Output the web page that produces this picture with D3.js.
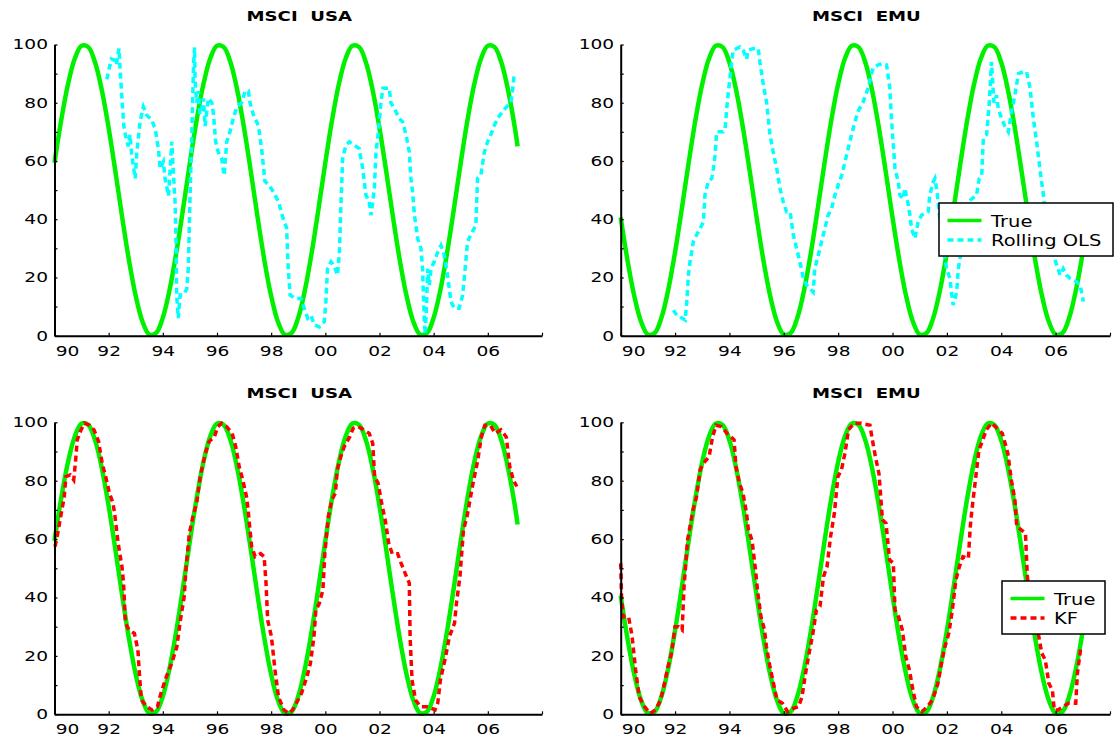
<!DOCTYPE html>
<html><head><meta charset="utf-8">
<script src="https://cdn.jsdelivr.net/npm/d3@7"></script>
<style>
body{margin:0;background:#fff}
text{font-family:"DejaVu Sans",Verdana,sans-serif;fill:#000}
</style>
</head><body>
<svg id="chart" width="1119" height="739"></svg>
<script>
// ---------- DATA ----------
const xTickValues = [1990,1992,1994,1996,1998,2000,2002,2004,2006,2008];
const xTickLabels = ["90","92","94","96","98","00","02","04","06",""];
const yTickValues = [0,10,20,30,40,50,60,70,80,90,100];
const yTickLabels = ["0","","20","","40","","60","","80","","100"];
const panelTitles = ["MSCI USA","MSCI EMU","MSCI USA","MSCI EMU"];
const legendLabelsTop = ["True","Rolling OLS"];
const legendLabelsBottom = ["True","KF"];

// quarterly dates for the true beta (1990.00 ... 2007.00) plus last obs
const trueYears = [1990,1990.25,1990.5,1990.75,1991,1991.25,1991.5,1991.75,1992,1992.25,1992.5,1992.75,
1993,1993.25,1993.5,1993.75,1994,1994.25,1994.5,1994.75,1995,1995.25,1995.5,1995.75,1996,1996.25,1996.5,1996.75,
1997,1997.25,1997.5,1997.75,1998,1998.25,1998.5,1998.75,1999,1999.25,1999.5,1999.75,2000,2000.25,2000.5,2000.75,
2001,2001.25,2001.5,2001.75,2002,2002.25,2002.5,2002.75,2003,2003.25,2003.5,2003.75,2004,2004.25,2004.5,2004.75,
2005,2005.25,2005.5,2005.75,2006,2006.25,2006.5,2006.75,2007,2007.1];
const trueUSA = [59.4,74.1,86.4,95.2,99.6,99.1,93.8,84.2,71.3,56.3,40.6,25.9,13.6,4.8,0.4,0.9,6.2,15.8,28.7,43.7,
59.4,74.1,86.4,95.2,99.6,99.1,93.8,84.2,71.3,56.3,40.6,25.9,13.6,4.8,0.4,0.9,6.2,15.8,28.7,43.7,
59.4,74.1,86.4,95.2,99.6,99.1,93.8,84.2,71.3,56.3,40.6,25.9,13.6,4.8,0.4,0.9,6.2,15.8,28.7,43.7,
59.4,74.1,86.4,95.2,99.6,99.1,93.8,84.2,71.3,65];
const trueEMU = [40.6,25.9,13.6,4.8,0.4,0.9,6.2,15.8,28.7,43.7,59.4,74.1,86.4,95.2,99.6,99.1,93.8,84.2,71.3,56.3,
40.6,25.9,13.6,4.8,0.4,0.9,6.2,15.8,28.7,43.7,59.4,74.1,86.4,95.2,99.6,99.1,93.8,84.2,71.3,56.3,
40.6,25.9,13.6,4.8,0.4,0.9,6.2,15.8,28.7,43.7,59.4,74.1,86.4,95.2,99.6,99.1,93.8,84.2,71.3,56.3,
40.6,25.9,13.6,4.8,0.4,0.9,6.2,15.8,28.7,35];

// [year, beta %]
const rollingOlsUSA = [[1991.93,88],[1992.10,95],[1992.22,94.6],[1992.28,93],[1992.38,98.6],[1992.42,91.8],[1992.50,80],
[1992.56,72],[1992.62,69],[1992.72,65],[1992.79,69],[1992.85,62],[1992.98,54],[1993.04,63],[1993.16,73.5],[1993.28,78.6],
[1993.41,75.7],[1993.59,74],[1993.72,71],[1993.84,64],[1993.90,57.4],[1994.02,59.7],[1994.08,54],[1994.21,48],[1994.27,57],
[1994.33,66.6],[1994.39,56],[1994.45,46],[1994.49,32],[1994.51,14],[1994.57,6],[1994.64,14],[1994.76,14],[1994.88,16],
[1994.94,23],[1995.00,46],[1995.07,69],[1995.13,92],[1995.17,99],[1995.19,88],[1995.25,80],[1995.31,84],[1995.37,76],
[1995.44,78],[1995.50,81.5],[1995.56,72],[1995.68,81.5],[1995.81,80],[1995.87,76],[1995.95,66.6],[1996.05,63],[1996.17,61],
[1996.26,55],[1996.36,66.6],[1996.48,70],[1996.60,74.6],[1996.73,78.6],[1996.91,80],[1997.04,84],[1997.16,84],[1997.22,80],
[1997.34,76],[1997.53,72],[1997.65,64],[1997.77,53],[1997.90,52],[1998.08,49.4],[1998.27,46],[1998.45,40],[1998.57,37],
[1998.63,23],[1998.70,14],[1998.88,12.8],[1999.10,12.8],[1999.22,9.4],[1999.35,6],[1999.47,7],[1999.59,3.7],[1999.78,3],
[1999.96,4.8],[2000.02,11.7],[2000.08,23],[2000.21,25.4],[2000.33,24],[2000.45,20.8],[2000.52,28.8],[2000.58,46],[2000.64,61],
[2000.76,65.4],[2000.89,66.6],[2001.07,65.4],[2001.25,64.3],[2001.38,57.4],[2001.50,48.3],[2001.62,46],[2001.69,41.4],
[2001.81,50.6],[2001.87,63],[2001.96,70],[2002.03,78],[2002.12,85],[2002.36,85],[2002.42,80],[2002.55,78],[2002.73,74.6],
[2002.85,73.5],[2002.98,69],[2003.10,63],[2003.16,54],[2003.22,49.4],[2003.29,41.4],[2003.41,33.4],[2003.53,30],[2003.59,23],
[2003.65,6],[2003.69,0.5],[2003.74,11.7],[2003.78,23],[2003.84,17.4],[2003.90,23],[2004.02,25.4],[2004.15,28.8],[2004.27,31],
[2004.39,27.7],[2004.51,20.8],[2004.64,11.7],[2004.76,9.4],[2004.94,9.4],[2005.07,14],[2005.13,19.7],[2005.25,32.3],
[2005.37,34.6],[2005.56,38],[2005.62,54],[2005.74,55],[2005.87,63],[2005.99,66.6],[2006.11,69],[2006.23,72],[2006.36,74.6],
[2006.54,77],[2006.73,79],[2006.85,80],[2006.91,84],[2006.97,89.5]];

const rollingOlsEMU = [[1991.94,8.8],[1992.06,7],[1992.18,6.5],[1992.37,5.4],[1992.43,11.7],[1992.49,20.8],[1992.55,25.4],
[1992.61,28.8],[1992.67,32.3],[1992.79,34.6],[1992.92,36.8],[1993.04,39],[1993.10,48.3],[1993.22,52.9],[1993.35,54],
[1993.41,57.4],[1993.47,62],[1993.53,70],[1993.65,70],[1993.77,70],[1993.84,71],[1993.90,78],[1993.96,83.8],[1994.02,88.3],
[1994.08,94],[1994.14,98],[1994.26,98.6],[1994.39,99.2],[1994.51,98],[1994.63,95],[1994.69,98],[1994.88,98.6],[1995.06,98.6],
[1995.12,94],[1995.25,86],[1995.37,80],[1995.43,74.6],[1995.49,69],[1995.61,63],[1995.74,57.4],[1995.86,50.6],[1995.98,46],
[1996.10,42.6],[1996.23,42.6],[1996.35,34.6],[1996.47,30],[1996.59,25.4],[1996.72,19.7],[1996.84,17.4],[1996.96,16.2],
[1997.08,15],[1997.14,23],[1997.27,27.7],[1997.39,32.3],[1997.51,36.8],[1997.63,41.4],[1997.76,43.7],[1997.88,48.3],
[1998.00,51.7],[1998.13,55],[1998.25,59.7],[1998.37,64.3],[1998.49,69],[1998.62,73.5],[1998.73,77],[1998.92,80.3],
[1999.10,85],[1999.28,91.8],[1999.47,93],[1999.66,93.5],[1999.78,93],[1999.90,85],[1999.96,74.6],[2000.02,66.6],
[2000.09,57.4],[2000.21,52.9],[2000.27,48.3],[2000.39,47],[2000.45,50.6],[2000.58,44.9],[2000.64,41.4],[2000.70,36.8],
[2000.82,33.4],[2000.94,39],[2001.07,41.4],[2001.19,42],[2001.31,42.6],[2001.37,48.3],[2001.50,52.9],[2001.56,54],
[2001.64,49.4],[2001.74,40],[2001.87,30],[2001.99,23],[2002.11,19.7],[2002.17,15],[2002.23,10.5],[2002.36,15],[2002.42,23],
[2002.54,30],[2002.66,40],[2002.79,46],[2003.09,48.3],[2003.19,54],[2003.28,55],[2003.34,67.7],[2003.46,69],[2003.56,80],
[2003.64,94],[2003.68,88],[2003.73,80],[2003.83,82.6],[2003.89,78],[2004.01,74.6],[2004.13,72],[2004.26,70],[2004.38,77],
[2004.50,82.6],[2004.63,90],[2004.81,90.6],[2004.93,90.6],[2005.06,85],[2005.18,74.6],[2005.30,66.6],[2005.42,57.4],
[2005.55,48.3],[2005.67,39],[2005.79,32],[2005.91,27.7],[2006.04,24.3],[2006.16,20.8],[2006.28,23],[2006.40,20.8],
[2006.53,19.7],[2006.77,18.5],[2006.90,17.4],[2007.02,11.7]];

const kfUSA = [[1990.02,57.4],[1990.12,62],[1990.25,68.8],[1990.36,74.5],[1990.42,81.4],[1990.58,82],[1990.71,80.3],
[1990.78,87],[1990.84,94],[1990.98,97.4],[1991.11,99.7],[1991.30,99],[1991.46,97.4],[1991.63,93.4],[1991.76,86],[1991.89,81.4],
[1992.03,75.7],[1992.16,72.3],[1992.22,68.8],[1992.35,58.6],[1992.49,50.6],[1992.55,44.9],[1992.62,31.2],[1992.75,28.9],
[1992.95,27.7],[1993.08,22],[1993.14,12.9],[1993.21,4.9],[1993.41,2.6],[1993.60,1.5],[1993.80,2.6],[1993.93,7.2],[1994.13,12.9],
[1994.33,17.5],[1994.52,23.2],[1994.65,32.3],[1994.79,40.3],[1994.85,49.4],[1994.98,62],[1995.11,67.7],[1995.25,72.3],
[1995.38,81.4],[1995.57,89.4],[1995.71,93.4],[1995.90,95],[1996.03,98.5],[1996.17,99.7],[1996.36,98.5],[1996.56,96.2],
[1996.69,91.7],[1996.82,84.8],[1996.95,80.3],[1997.09,74.5],[1997.15,70],[1997.22,63],[1997.28,57.4],[1997.41,54],
[1997.61,55],[1997.74,54],[1997.81,44.9],[1997.87,32.3],[1998.01,26.6],[1998.14,15.2],[1998.27,6],[1998.47,1.5],[1998.66,0.3],
[1998.79,1.5],[1998.93,3.8],[1999.12,7.2],[1999.32,12.9],[1999.45,17.5],[1999.58,26.6],[1999.65,35.7],[1999.78,38],
[1999.91,42.6],[1999.98,55],[2000.11,67.7],[2000.24,73.4],[2000.37,75.7],[2000.44,83.7],[2000.57,88.2],[2000.70,91.7],
[2000.90,95],[2001.03,98],[2001.22,98.5],[2001.42,97.4],[2001.62,96.2],[2001.75,92.8],[2001.82,81.4],[2001.95,79.1],
[2002.08,72.3],[2002.21,66.6],[2002.34,58.6],[2002.47,55],[2002.67,55],[2002.80,51.7],[2003.00,47.1],[2003.10,44.9],
[2003.13,26.6],[2003.20,11.8],[2003.33,4.9],[2003.52,2.6],[2003.79,2.6],[2004.05,1.5],[2004.15,3.8],[2004.25,11.8],
[2004.44,19.7],[2004.58,26.6],[2004.77,31.2],[2004.84,38],[2004.97,47.1],[2005.10,63],[2005.23,67.7],[2005.43,78],
[2005.63,87.1],[2005.76,95],[2005.89,99],[2006.09,99],[2006.28,96.2],[2006.48,97.4],[2006.68,95],[2006.81,84.8],
[2006.94,80.3],[2007.07,78]];

const kfEMU = [[1990.00,51.7],[1990.03,40.3],[1990.09,33.4],[1990.29,33.4],[1990.42,26.6],[1990.55,15.2],[1990.68,6],
[1990.88,2.6],[1991.08,0.3],[1991.28,1.5],[1991.47,4.9],[1991.61,10.6],[1991.74,16.3],[1991.87,20.9],[1992.00,30],
[1992.13,30],[1992.26,28.9],[1992.33,43.7],[1992.46,59.7],[1992.66,70],[1992.79,74.5],[1992.92,83.7],[1993.05,86],
[1993.25,88.2],[1993.38,95],[1993.51,99],[1993.71,98.5],[1993.91,96.2],[1994.17,94],[1994.24,84.8],[1994.37,79.1],
[1994.50,75.7],[1994.63,68.8],[1994.70,63],[1994.83,59.7],[1994.96,49.4],[1995.03,42.6],[1995.16,33.4],[1995.29,28.9],
[1995.36,23.2],[1995.49,16.3],[1995.62,10.6],[1995.75,4.9],[1995.95,3.8],[1996.14,0.9],[1996.34,2],[1996.54,2.6],
[1996.67,6],[1996.80,14],[1996.93,20.9],[1997.07,27.7],[1997.20,35.7],[1997.33,36.9],[1997.46,47.1],[1997.59,50.6],
[1997.72,60.8],[1997.86,68.8],[1997.99,81.4],[1998.12,83.7],[1998.25,89.4],[1998.38,97.4],[1998.58,99.7],[1998.84,99.7],
[1999.17,99],[1999.24,95],[1999.37,88.2],[1999.50,82.5],[1999.63,66.6],[1999.76,65.4],[1999.89,52.9],[2000.03,51.7],
[2000.09,35.7],[2000.22,33.4],[2000.36,28.9],[2000.49,19.7],[2000.62,15.2],[2000.75,8.3],[2000.88,2.6],[2001.08,0.9],
[2001.28,2.6],[2001.47,4.9],[2001.67,10.6],[2001.80,17.5],[2001.93,23.2],[2002.07,27.7],[2002.20,35.7],[2002.33,46],
[2002.46,50.6],[2002.59,54],[2002.79,53.4],[2002.86,64.3],[2002.92,70],[2003.05,80.3],[2003.18,90.5],[2003.32,94],
[2003.45,97.4],[2003.64,99.7],[2003.84,98],[2004.04,96.2],[2004.24,89.4],[2004.37,80.3],[2004.50,73.4],[2004.57,64.3],
[2004.76,63],[2004.89,62],[2004.96,47.1],[2005.09,38],[2005.36,27.7],[2005.49,20.9],[2005.62,18.6],[2005.75,10.6],
[2005.88,8.3],[2005.95,1.5],[2006.08,1.5],[2006.28,2.6],[2006.47,3.8],[2006.74,3.8],[2006.80,14],[2006.93,23.2]];

// ---------- DRAWING ----------
const GREEN = "#00f000", CYAN = "#00ffff", RED = "#ff0000";
const svg = d3.select("#chart");

const panels = [
  {title: panelTitles[0], tru: trueUSA, est: rollingOlsUSA, color: CYAN, left: 54.5, right: 542, top: 44.5, bottom: 335.7, legend: null},
  {title: panelTitles[1], tru: trueEMU, est: rollingOlsEMU, color: CYAN, left: 620.7, right: 1110, top: 44.5, bottom: 335.7,
   legend: {x: 939, y: 203, w: 174, h: 53, labels: legendLabelsTop}},
  {title: panelTitles[2], tru: trueUSA, est: kfUSA, color: RED, left: 54.5, right: 542, top: 422.3, bottom: 714.3, legend: null},
  {title: panelTitles[3], tru: trueEMU, est: kfEMU, color: RED, left: 620.7, right: 1110, top: 422.3, bottom: 714.3,
   legend: {x: 1002, y: 581, w: 103, h: 53, labels: legendLabelsBottom}}
];

const SX = 1.33; // horizontal stretch of the reference's lettering
function stretch(sel, sx) {
  sel.each(function() {
    const t = d3.select(this);
    const x = +t.attr("x") || 0;
    t.attr("x", x / sx).attr("transform", `scale(${sx},1)`);
  });
}

panels.forEach(p => {
  const x = d3.scaleLinear().domain([1990, 2008]).range([p.left, p.right]);
  const y = d3.scaleLinear().domain([0, 100]).range([p.bottom, p.top]);
  const g = svg.append("g");

  // title
  g.append("text")
    .attr("transform", `translate(${(p.left + p.right) / 2 + 1},${p.top - 24}) scale(1.25,1)`)
    .attr("text-anchor", "middle")
    .style("font-weight", "bold").style("font-size", "14.5px")
    .style("white-space", "pre")
    .text(p.title.replace(" ", "  "));

  // true line
  const trueData = trueYears.map((t, i) => [t, p.tru[i]]);
  g.append("path").datum(trueData)
    .attr("fill", "none").attr("stroke", GREEN).attr("stroke-width", 4.5)
    .attr("stroke-linejoin", "round")
    .attr("d", d3.line().x(d => x(d[0])).y(d => y(d[1])).curve(d3.curveCatmullRom));

  // estimate line
  g.append("path").datum(p.est)
    .attr("fill", "none").attr("stroke", p.color).attr("stroke-width", 3.5)
    .attr("stroke-dasharray", "6,4")
    .attr("d", d3.line().x(d => x(d[0])).y(d => y(d[1])));

  // axes
  const yAxis = d3.axisLeft(y).tickValues(yTickValues).tickSizeInner(-3).tickSizeOuter(0).tickPadding(6.5)
    .tickFormat((d, i) => yTickLabels[i]);
  const ya = g.append("g").attr("transform", `translate(${p.left},0)`).call(yAxis);
  const xAxis = d3.axisBottom(x).tickValues(xTickValues).tickSizeInner(-3).tickSizeOuter(0).tickPadding(10)
    .tickFormat((d, i) => xTickLabels[i]);
  const xa = g.append("g").attr("transform", `translate(0,${p.bottom})`).call(xAxis);

  [ya, xa].forEach(a => {
    a.select(".domain").attr("stroke", "#000").attr("stroke-width", 2);
    a.selectAll(".tick line").attr("stroke", "#000").attr("stroke-width", 1.2);
    a.selectAll(".tick text").style("font-size", "14px").attr("font-family", null);
  });
  xa.selectAll(".tick text").filter(d => d === 1990).attr("x", 12.5);
  stretch(ya.selectAll(".tick text"), SX);
  stretch(xa.selectAll(".tick text"), SX);

  // legend
  if (p.legend) {
    const L = p.legend;
    const lg = g.append("g").attr("transform", `translate(${L.x},${L.y})`);
    lg.append("rect").attr("width", L.w).attr("height", L.h)
      .attr("fill", "#fff").attr("stroke", "#000").attr("stroke-width", 1.5);
    const rows = [{c: GREEN, dash: null, w: 3.5, ly: 17.5, ty: 23.5},
                  {c: p.color, dash: "6,4", w: 3.5, ly: 37, ty: 42.5}];
    rows.forEach((r, i) => {
      lg.append("line").attr("x1", 8.5).attr("x2", 42.5).attr("y1", r.ly).attr("y2", r.ly)
        .attr("stroke", r.c).attr("stroke-width", r.w).attr("stroke-dasharray", r.dash);
      lg.append("text").attr("transform", `translate(52,${r.ty}) scale(1.3,1)`)
        .style("font-size", "15px").text(L.labels[i]);
    });
  }
});
</script>
</body></html>
